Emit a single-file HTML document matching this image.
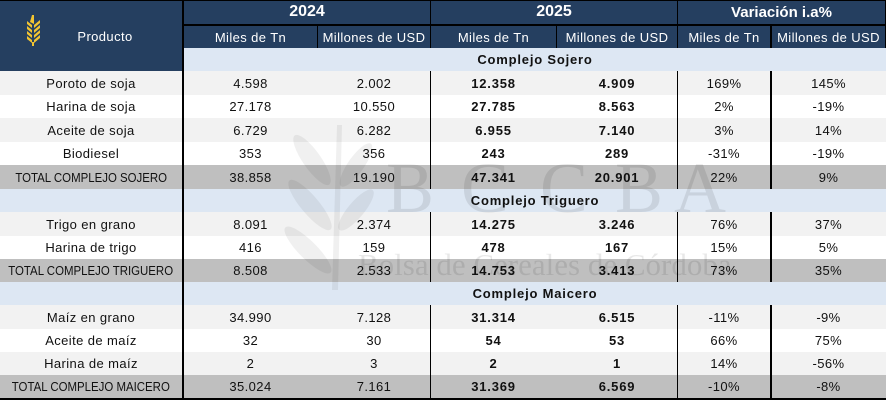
<!DOCTYPE html>
<html><head><meta charset="utf-8">
<style>
*{margin:0;padding:0;box-sizing:border-box}
body{width:886px;height:402px;background:#fff;overflow:hidden;font-family:"Liberation Sans",Arial,sans-serif;}
#w{position:relative;width:886px;height:402px;background:#fff;}
.r{position:absolute;left:0;width:886px;}
.r span{position:absolute;top:0;height:100%;display:flex;align-items:center;justify-content:center;white-space:nowrap;font-size:13px;color:#111;letter-spacing:0.4px;}
.c0{left:0;width:182px}.c1{left:184px;width:133px}.c2{left:318px;width:112px}.c3{left:431px;width:125px}.c4{left:557px;width:120px}.c5{left:678px;width:92px}.c6{left:772px;width:113px}
.r span.b{font-weight:bold;letter-spacing:0.8px;}
.g{background:#f2f2f2}.wh{background:#fff}.t{background:#bfbfbf}.s{background:#dde7f3}
.tl i{font-style:normal;display:inline-block;transform:scaleX(0.88);letter-spacing:0;}
.ln{position:absolute;background:#000}
.nv{position:absolute;background:#253f60}
.h{position:absolute;color:#fff;display:flex;align-items:center;justify-content:center;white-space:nowrap;}
</style></head><body><div id="w">

<!-- header backgrounds -->
<div class="nv" style="left:0;top:0;width:182px;height:71px"></div>
<div class="nv" style="left:184px;top:0;width:702px;height:48px"></div>
<div class="r s" style="top:48px;height:23px;left:184px;width:702px"></div>
<div class="r" style="top:48px;height:23px"><span class="c1 b" style="left:184px;width:702px;">Complejo Sojero</span></div>

<!-- header texts -->
<div class="h" style="left:184px;top:0;width:246px;height:24px;font-weight:bold;font-size:16px;">2024</div>
<div class="h" style="left:431px;top:0;width:246px;height:24px;font-weight:bold;font-size:16px;">2025</div>
<div class="h" style="left:678px;top:0;width:207px;height:24px;font-weight:bold;font-size:15px;">Variación i.a%</div>
<div class="h" style="left:184px;top:26px;width:133px;height:22px;font-size:13px;letter-spacing:0.4px">Miles de Tn</div>
<div class="h" style="left:318px;top:26px;width:112px;height:22px;font-size:13px;letter-spacing:0.4px">Millones de USD</div>
<div class="h" style="left:431px;top:26px;width:125px;height:22px;font-size:13px;letter-spacing:0.4px">Miles de Tn</div>
<div class="h" style="left:557px;top:26px;width:120px;height:22px;font-size:13px;letter-spacing:0.4px">Millones de USD</div>
<div class="h" style="left:678px;top:26px;width:92px;height:22px;font-size:13px;letter-spacing:0.4px">Miles de Tn</div>
<div class="h" style="left:772px;top:26px;width:113px;height:22px;font-size:13px;letter-spacing:0.4px">Millones de USD</div>
<div class="h" style="left:74px;top:26px;width:62px;height:20px;font-size:13px;letter-spacing:0.4px">Producto</div>

<!-- header icon -->
<svg style="position:absolute;left:20px;top:10px" width="30" height="40" viewBox="20 10 30 40">
<g fill="#f2c432">
<polygon points="32,15 34,15 34,24 30,22"/>
<polygon points="34,25 40,20 40,23 34,28"/>
<polygon points="32,25 27,21 27,24 32,28"/>
<polygon points="34,30 40,25 40,28 34,33"/>
<polygon points="32,30 27,26 27,29 32,33"/>
<polygon points="34,35 40,30 40,33 34,38"/>
<polygon points="32,35 27,31 27,34 32,38"/>
<polygon points="34,40 40,35 40,38 34,43"/>
<polygon points="32,40 27,36 27,39 32,43"/>
<polygon points="32,42 34,42 34,46 32,46"/>
</g></svg>

<!-- data rows -->
<div class="r g" style="top:71px;height:24px"><span class="c0">Poroto de soja</span><span class="c1">4.598</span><span class="c2">2.002</span><span class="c3 b">12.358</span><span class="c4 b">4.909</span><span class="c5">169%</span><span class="c6">145%</span></div>
<div class="r wh" style="top:95px;height:23px"><span class="c0">Harina de soja</span><span class="c1">27.178</span><span class="c2">10.550</span><span class="c3 b">27.785</span><span class="c4 b">8.563</span><span class="c5">2%</span><span class="c6">-19%</span></div>
<div class="r g" style="top:118px;height:24px"><span class="c0">Aceite de soja</span><span class="c1">6.729</span><span class="c2">6.282</span><span class="c3 b">6.955</span><span class="c4 b">7.140</span><span class="c5">3%</span><span class="c6">14%</span></div>
<div class="r wh" style="top:142px;height:23px"><span class="c0">Biodiesel</span><span class="c1">353</span><span class="c2">356</span><span class="c3 b">243</span><span class="c4 b">289</span><span class="c5">-31%</span><span class="c6">-19%</span></div>
<div class="r t" style="top:165px;height:24px"><span class="c0 tl"><i>TOTAL COMPLEJO SOJERO</i></span><span class="c1">38.858</span><span class="c2">19.190</span><span class="c3 b">47.341</span><span class="c4 b">20.901</span><span class="c5">22%</span><span class="c6">9%</span></div>
<div class="r s" style="top:189px;height:23px"><span class="b" style="left:184px;width:702px;">Complejo Triguero</span></div>
<div class="r g" style="top:212px;height:24px"><span class="c0">Trigo en grano</span><span class="c1">8.091</span><span class="c2">2.374</span><span class="c3 b">14.275</span><span class="c4 b">3.246</span><span class="c5">76%</span><span class="c6">37%</span></div>
<div class="r wh" style="top:236px;height:23px"><span class="c0">Harina de trigo</span><span class="c1">416</span><span class="c2">159</span><span class="c3 b">478</span><span class="c4 b">167</span><span class="c5">15%</span><span class="c6">5%</span></div>
<div class="r t" style="top:259px;height:23px"><span class="c0 tl"><i>TOTAL COMPLEJO TRIGUERO</i></span><span class="c1">8.508</span><span class="c2">2.533</span><span class="c3 b">14.753</span><span class="c4 b">3.413</span><span class="c5">73%</span><span class="c6">35%</span></div>
<div class="r s" style="top:282px;height:23px"><span class="b" style="left:184px;width:702px;">Complejo Maicero</span></div>
<div class="r g" style="top:305px;height:24px"><span class="c0">Maíz en grano</span><span class="c1">34.990</span><span class="c2">7.128</span><span class="c3 b">31.314</span><span class="c4 b">6.515</span><span class="c5">-11%</span><span class="c6">-9%</span></div>
<div class="r wh" style="top:329px;height:23px"><span class="c0">Aceite de maíz</span><span class="c1">32</span><span class="c2">30</span><span class="c3 b">54</span><span class="c4 b">53</span><span class="c5">66%</span><span class="c6">75%</span></div>
<div class="r g" style="top:352px;height:23px"><span class="c0">Harina de maíz</span><span class="c1">2</span><span class="c2">3</span><span class="c3 b">2</span><span class="c4 b">1</span><span class="c5">14%</span><span class="c6">-56%</span></div>
<div class="r t" style="top:375px;height:23px"><span class="c0 tl"><i>TOTAL COMPLEJO MAICERO</i></span><span class="c1">35.024</span><span class="c2">7.161</span><span class="c3 b">31.369</span><span class="c4 b">6.569</span><span class="c5">-10%</span><span class="c6">-8%</span></div>

<!-- lines -->
<div class="ln" style="left:0;top:0;width:886px;height:1px"></div>
<div class="ln" style="left:182px;top:0;width:2px;height:400px"></div>
<div class="ln" style="left:182px;top:24px;width:704px;height:2px"></div>
<div class="ln" style="left:182px;top:398px;width:704px;height:2px"></div>
<div class="ln" style="left:0;top:398px;width:182px;height:2px"></div>
<div class="ln" style="left:885px;top:0;width:1px;height:48px"></div>
<div class="ln" style="left:317px;top:26px;width:1px;height:22px"></div>
<div class="ln" style="left:556px;top:26px;width:1px;height:22px"></div>
<div class="ln" style="left:430px;top:0;width:1px;height:48px"></div>
<div class="ln" style="left:677px;top:0;width:1px;height:48px"></div>
<div class="ln" style="left:770px;top:26px;width:2px;height:22px"></div>

<div class="ln" style="left:430px;top:71px;width:1px;height:118px"></div>
<div class="ln" style="left:677px;top:71px;width:1px;height:118px"></div>
<div class="ln" style="left:770px;top:71px;width:2px;height:118px"></div>
<div class="ln" style="left:430px;top:212px;width:1px;height:70px"></div>
<div class="ln" style="left:677px;top:212px;width:1px;height:70px"></div>
<div class="ln" style="left:770px;top:212px;width:2px;height:70px"></div>
<div class="ln" style="left:430px;top:305px;width:1px;height:93px"></div>
<div class="ln" style="left:677px;top:305px;width:1px;height:93px"></div>
<div class="ln" style="left:770px;top:305px;width:2px;height:93px"></div>

<!-- watermark -->
<svg style="position:absolute;left:0;top:0;pointer-events:none" width="886" height="402">
<g fill="rgba(0,0,0,0.06)">
<polygon points="332,290 338,290 342,125 337,125"/>
<ellipse cx="312" cy="160" rx="9" ry="30" transform="rotate(-35 312 160)"/>
<ellipse cx="310" cy="205" rx="9" ry="32" transform="rotate(-40 310 205)"/>
<ellipse cx="308" cy="250" rx="9" ry="32" transform="rotate(-45 308 250)"/>
<ellipse cx="356" cy="165" rx="8" ry="26" transform="rotate(35 356 165)"/>
<ellipse cx="356" cy="210" rx="8" ry="26" transform="rotate(40 356 210)"/>
</g>
<g fill="rgba(0,0,0,0.09)" font-family="Liberation Serif, serif" text-anchor="middle" font-size="72">
<text x="410" y="212">B</text>
<text x="485" y="212">C</text>
<text x="564" y="212">C</text>
<text x="639" y="212">B</text>
<text x="700" y="212">A</text>
</g>
<text x="358" y="275" fill="rgba(0,0,0,0.09)" font-family="Liberation Serif, serif" font-size="31">Bolsa de Cereales de Córdoba</text>
</svg>

</div></body></html>
